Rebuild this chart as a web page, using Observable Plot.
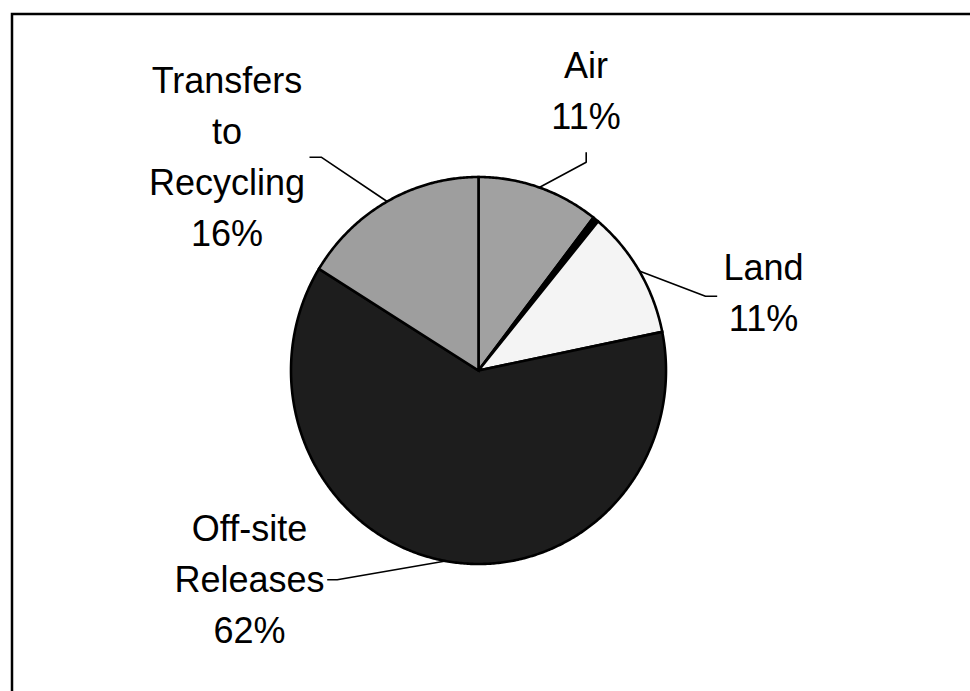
<!DOCTYPE html>
<html>
<head>
<meta charset="utf-8">
<script src="https://cdn.jsdelivr.net/npm/d3@7"></script>
<script src="https://cdn.jsdelivr.net/npm/@observablehq/plot@0.6"></script>
<style>
  html, body { margin: 0; padding: 0; background: #fff; overflow: hidden; }
</style>
</head>
<body>
<div id="chart"></div>
<script>
// ---- data ----
const categories = ["Air", "Water", "Land", "Off-site Releases", "Transfers to Recycling"];
const values = [10.5, 0.5, 10.8, 62.0, 16.2];
const labelLines = [["Air"], [], ["Land"], ["Off-site", "Releases"], ["Transfers", "to", "Recycling"]];
const pctLabels = ["11%", "", "11%", "62%", "16%"];

// ---- styles / layout ----
const colors = ["#a1a1a1", "#000000", "#f4f4f4", "#1d1d1d", "#9e9e9e"];
const W = 970, H = 691;
const CX = 478, CY = 370, RX = 187.5, RY = 193.5;
const fontSize = 36, lineGap = 51;
// label layout: text centre x, last baseline y, leader elbow and tail
const labelLayout = [
  {x: 585.5, y: 128.5, elbow: [585.7, 161.7], tail: [585.7, 151.7]},
  null,
  {x: 763, y: 330, elbow: [705, 295.7], tail: [716.7, 295.7]},
  {x: 249, y: 642, elbow: [336.7, 579.3], tail: [326.7, 579.3]},
  {x: 226.5, y: 245, elbow: [320.7, 156.7], tail: [309, 156.7]}
];

const pt = (a) => [CX + RX * Math.sin(a), CY - RY * Math.cos(a)];
const arcs = d3.pie().sort(null).value(d => d)(values);

const sliceMarks = arcs.map((arc, i) => {
  const pts = [{x: CX, y: CY}];
  const n = Math.max(2, Math.ceil((arc.endAngle - arc.startAngle) / (Math.PI / 360)));
  for (let k = 0; k <= n; k++) {
    const a = arc.startAngle + (arc.endAngle - arc.startAngle) * k / n;
    const [x, y] = pt(a);
    pts.push({x, y});
  }
  return Plot.line(pts, {
    x: "x", y: "y", curve: "linear-closed",
    fill: colors[i], stroke: "#000", strokeWidth: 2.6,
    strokeLinejoin: "miter", strokeMiterlimit: 10
  });
});

const leaders = [];
const texts = [];
arcs.forEach((arc, i) => {
  const L = labelLayout[i];
  if (!L) return;
  const mid = (arc.startAngle + arc.endAngle) / 2;
  const [ex, ey] = pt(mid);
  leaders.push({k: i, x: ex, y: ey}, {k: i, x: L.elbow[0], y: L.elbow[1]}, {k: i, x: L.tail[0], y: L.tail[1]});
  const lines = [...labelLines[i], pctLabels[i]];
  lines.forEach((t, j) => {
    texts.push({x: L.x, y: L.y - (lines.length - 1 - j) * lineGap, t});
  });
});

const chart = Plot.plot({
  width: W, height: H, margin: 0,
  x: {domain: [0, W], range: [0, W], axis: null},
  y: {domain: [0, H], range: [0, H], axis: null},
  style: {fontFamily: "'Liberation Sans', Arial, sans-serif", background: "#fff"},
  marks: [
    Plot.rect([{x1: 12, x2: W + 20, y1: 14, y2: H + 20}], {
      x1: "x1", x2: "x2", y1: "y1", y2: "y2", fill: "none", stroke: "#000", strokeWidth: 2.5
    }),
    ...sliceMarks,
    Plot.line(leaders, {x: "x", y: "y", z: "k", stroke: "#000", strokeWidth: 1.6, strokeLinejoin: "miter", strokeLinecap: "butt"}),
    Plot.text(texts, {x: "x", y: "y", text: "t", fontSize, fill: "#000", textAnchor: "middle", lineAnchor: "bottom"})
  ]
});
document.getElementById("chart").appendChild(chart);
</script>
</body>
</html>
